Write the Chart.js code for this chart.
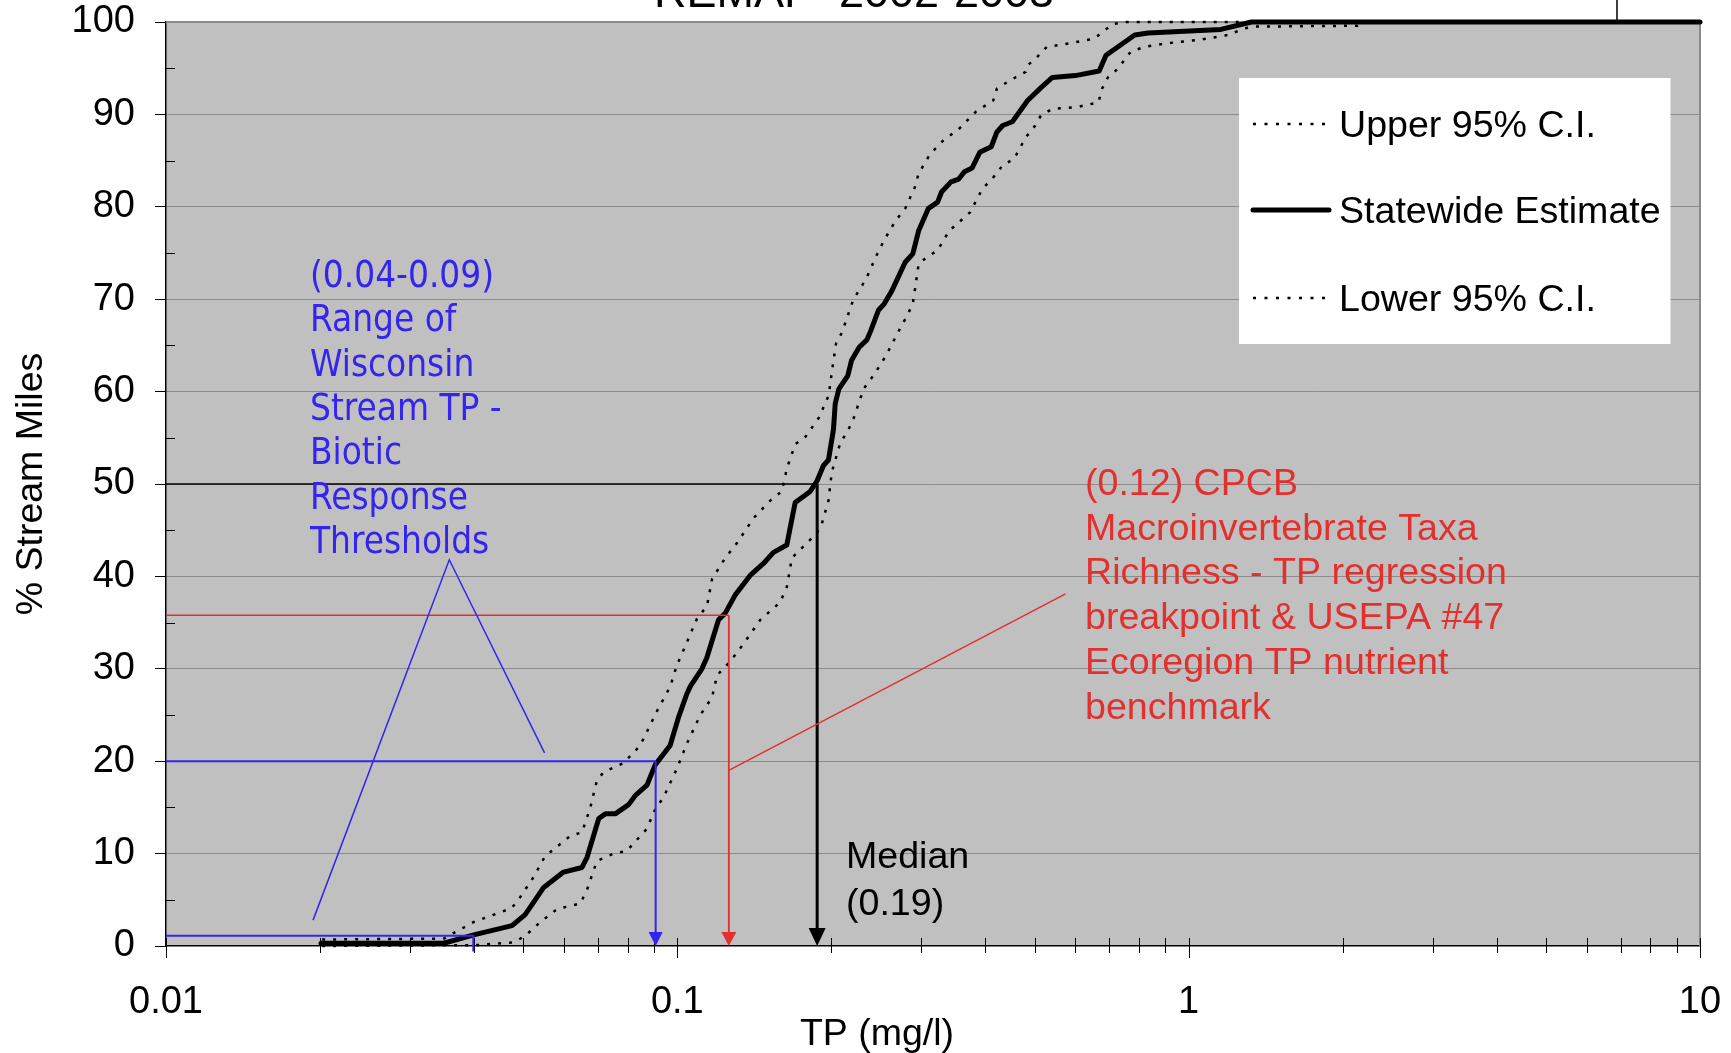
<!DOCTYPE html>
<html><head><meta charset="utf-8">
<script src="https://cdn.jsdelivr.net/npm/chart.js@4.4.1/dist/chart.umd.min.js"></script>
<style>html,body{margin:0;padding:0;background:#fff;overflow:hidden}#wrap{position:relative;width:1731px;height:1053px}</style>
</head><body><div id="wrap"><canvas id="c"></canvas></div>
<script>
// ---------- text ----------
const chartTitle = "REMAP  2002-2003";
const xAxisTitle = "TP (mg/l)";
const yAxisTitle = "% Stream Miles";
const seriesNames = ["Upper 95% C.I.", "Statewide Estimate", "Lower 95% C.I."];

// ---------- ticks ----------
const xMajorTicks = [0.01, 0.1, 1, 10];
const xTickLabels = ["0.01", "0.1", "1", "10"];
const xMinorTicks = [0.02,0.03,0.04,0.05,0.06,0.07,0.08,0.09,0.2,0.3,0.4,0.5,0.6,0.7,0.8,0.9,2,3,4,5,6,7,8,9];
const yMinorTicks = [5,15,25,35,45,55,65,75,85,95];

// ---------- series ----------
const upperTP = [0.0202,0.0350,0.0365,0.0400,0.0474,0.0489,0.0524,0.0551,0.0617,0.0651,0.0676,0.0696,0.0717,0.0785,0.0846,0.0912,0.0969,0.0998,0.1028,0.1092,0.1143,0.1169,0.1241,0.1308,0.1409,0.1519,0.1601,0.1638,0.1700,0.1780,0.1893,0.1977,0.2011,0.2045,0.2099,0.2210,0.2288,0.2348,0.2451,0.2538,0.2672,0.2790,0.2913,0.2964,0.3121,0.3315,0.3550,0.3837,0.4147,0.4217,0.4479,0.4799,0.4842,0.5053,0.5277,0.5853,0.6543,0.6774,0.7134,0.75,10];
const upperPct = [0.7,0.8,1.4,2.6,4.1,5.0,7.5,9.7,11.9,12.3,15.0,17.9,18.8,19.8,21.7,25.4,28.1,30.4,32.0,35.4,36.8,39.7,42.0,43.6,46.3,48.2,49.2,51.7,54.3,55.1,57.2,59.6,62.6,65.3,66.4,70.0,71.3,72.4,74.7,76.4,78.5,79.8,82.1,83.6,85.7,87.2,88.4,90.3,91.5,92.8,93.7,94.6,95.3,96.2,97.3,97.7,98.2,98.9,99.8,100,100];

const estTP = [0.0201,0.0349,0.0400,0.0475,0.0504,0.0547,0.0599,0.0651,0.0666,0.0702,0.0723,0.0756,0.0803,0.0828,0.0872,0.0905,0.0968,0.1006,0.1044,0.1060,0.1117,0.1142,0.1204,0.1240,0.1298,0.1388,0.1474,0.1542,0.1637,0.1700,0.1819,0.1875,0.1931,0.1975,0.2020,0.2036,0.2070,0.2154,0.2192,0.2268,0.2348,0.2390,0.2473,0.2539,0.2627,0.2790,0.2887,0.2964,0.3095,0.3229,0.3286,0.3430,0.3551,0.3643,0.3771,0.3904,0.4111,0.4217,0.4329,0.4520,0.4842,0.5143,0.5413,0.6005,0.6683,0.6892,0.7844,0.8330,1.156,1.327,10];
const estPct = [0.3,0.3,1.2,2.2,3.4,6.3,8.0,8.5,9.6,13.8,14.3,14.3,15.3,16.3,17.4,19.6,21.7,24.8,27.3,28.1,30.0,31.2,35.3,36.0,38.0,40.1,41.4,42.6,43.4,48.0,49.2,50.3,52.0,52.6,55.9,58.7,60.3,61.7,63.4,64.8,65.6,66.6,68.8,69.5,70.9,74.0,74.9,77.4,79.8,80.5,81.6,82.7,83.0,83.8,84.2,85.9,86.5,88.1,88.8,89.2,91.5,92.9,94.0,94.2,94.7,96.4,98.6,98.8,99.2,100,100];

const lowerTP = [0.0202,0.0406,0.0479,0.0504,0.0540,0.0582,0.0646,0.0666,0.0696,0.0751,0.0797,0.0872,0.0905,0.0940,0.0998,0.1044,0.1109,0.1169,0.1196,0.1269,0.1347,0.1453,0.1589,0.1638,0.1675,0.1875,0.1917,0.1975,0.2005,0.2082,0.2161,0.2227,0.2269,0.2328,0.2430,0.2559,0.2649,0.2742,0.2814,0.2887,0.2913,0.2964,0.3067,0.3230,0.3401,0.3550,0.3737,0.3902,0.3972,0.4111,0.4330,0.4557,0.4799,0.5011,0.5143,0.5414,0.6056,0.6662,0.6774,0.6950,0.7258,0.7709,0.8188,0.9078,1.060,1.196,1.282,1.350,2.14,2.2,10];
const lowerPct = [0.0,0.1,0.4,1.1,2.6,4.0,4.6,6.1,9.2,10.0,10.3,12.7,14.8,16.1,19.2,21.9,25.0,26.9,29.3,30.8,32.7,35.3,37.2,38.9,42.0,44.7,45.7,48.2,51.3,54.4,55.9,57.5,59.0,60.5,61.9,63.9,65.5,67.1,68.2,69.5,70.9,73.8,74.5,75.3,77.4,78.3,79.4,81.4,82.1,82.9,84.5,85.2,87.5,88.8,89.9,90.6,90.8,91.3,92.8,94.0,94.9,96.8,97.3,97.7,98.1,98.6,99.3,99.5,99.6,100,100];

// ---------- annotations (values) ----------
const medianTP = 0.1877, medianPct = 50;
const cpcbTP = 0.1261, cpcbPct = 35.8;
const wiHighTP = 0.0907, wiHighPct = 20;
const wiLowTP = 0.0399, wiLowPct = 1.1, wiLowDrop = -0.6;
const blueCalloutTP = [0.01939, 0.03581, 0.0550];
const blueCalloutPct = [2.8, 41.8, 20.9];
const redCalloutTP = [0.1261, 0.5743];
const redCalloutPct = [19.0, 38.1];
const blueNote = ["(0.04-0.09)", "Range of", "Wisconsin", "Stream TP -", "Biotic", "Response", "Thresholds"];
const redNote = ["(0.12) CPCB", "Macroinvertebrate Taxa", "Richness - TP regression", "breakpoint & USEPA #47", "Ecoregion TP nutrient", "benchmark"];
const medianNote = ["Median", "(0.19)"];

// ---------- build ----------
const ARIAL = "'Liberation Sans', Arial, Helvetica, sans-serif";
const BLUE = '#3524EE', RED = '#E2302F';
const zip = (xs, ys) => xs.map((x, i) => ({x: x, y: ys[i]}));
const allXTicks = xMajorTicks.concat(xMinorTicks).sort((a, b) => a - b);

function arrow(ctx, x, y0, y1, color, lw, hw, hh) {
  ctx.save();
  ctx.strokeStyle = color; ctx.fillStyle = color; ctx.lineWidth = lw;
  ctx.beginPath(); ctx.moveTo(x, y0); ctx.lineTo(x, y1 - hh + 1); ctx.stroke();
  ctx.beginPath(); ctx.moveTo(x - hw, y1 - hh); ctx.lineTo(x + hw, y1 - hh); ctx.lineTo(x, y1); ctx.closePath(); ctx.fill();
  ctx.restore();
}
function seg(ctx, pts, color, lw) {
  ctx.save(); ctx.strokeStyle = color; ctx.lineWidth = lw; ctx.lineJoin = 'miter';
  ctx.beginPath(); pts.forEach((p, i) => i ? ctx.lineTo(p[0], p[1]) : ctx.moveTo(p[0], p[1])); ctx.stroke(); ctx.restore();
}

const deco = {
  id: 'deco',
  beforeDraw(chart) {
    const {ctx, chartArea: a} = chart;
    ctx.save();
    ctx.fillStyle = '#fff'; ctx.fillRect(0, 0, chart.width, chart.height);
    ctx.fillStyle = '#c0c0c0'; ctx.fillRect(a.left, a.top, a.right - a.left, a.bottom - a.top);
    ctx.restore();
  },
  beforeDatasetsDraw(chart) {
    const {ctx, chartArea: a, scales} = chart;
    const xs = scales.x, ys = scales.y;
    ctx.save();
    ctx.strokeStyle = '#8a8a8a'; ctx.lineWidth = 2;
    ctx.beginPath(); ctx.moveTo(a.left, a.top); ctx.lineTo(a.right, a.top); ctx.lineTo(a.right, a.bottom); ctx.stroke();
    ctx.strokeStyle = '#000'; ctx.lineWidth = 1;
    yMinorTicks.forEach(v => { const y = Math.round(ys.getPixelForValue(v)) + 0.5; ctx.beginPath(); ctx.moveTo(a.left, y); ctx.lineTo(a.left + 9, y); ctx.stroke(); });
    allXTicks.forEach(v => {
      const x = Math.round(xs.getPixelForValue(v)) + 0.5;
      const major = xMajorTicks.includes(v);
      ctx.beginPath(); ctx.moveTo(x, a.bottom - 8); ctx.lineTo(x, a.bottom + (major ? 12 : 7)); ctx.stroke();
    });
    ctx.restore();
  },
  afterDatasetsDraw(chart) {
    const {ctx, chartArea: a, scales} = chart;
    const X = v => scales.x.getPixelForValue(v), Y = v => scales.y.getPixelForValue(v);
    seg(ctx, [[a.left, Y(medianPct)], [X(medianTP), Y(medianPct)]], '#000', 1.5);
    arrow(ctx, X(medianTP), Y(medianPct), Y(0), '#000', 3, 8.5, 18);
    seg(ctx, [[a.left, Y(cpcbPct)], [X(cpcbTP), Y(cpcbPct)]], RED, 1.6);
    arrow(ctx, X(cpcbTP), Y(cpcbPct), Y(0), RED, 1.8, 7.5, 14);
    seg(ctx, redCalloutTP.map((v, i) => [X(v), Y(redCalloutPct[i])]), RED, 1.5);
    seg(ctx, [[a.left, Y(wiHighPct)], [X(wiHighTP), Y(wiHighPct)]], BLUE, 2);
    arrow(ctx, X(wiHighTP), Y(wiHighPct), Y(0), BLUE, 2, 7, 14);
    seg(ctx, [[a.left, Y(wiLowPct)], [X(wiLowTP), Y(wiLowPct)], [X(wiLowTP), Y(wiLowDrop)]], BLUE, 2);
    seg(ctx, blueCalloutTP.map((v, i) => [X(v), Y(blueCalloutPct[i])]), BLUE, 1.5);

    ctx.save();
    ctx.textBaseline = 'alphabetic'; ctx.textAlign = 'left';
    ctx.font = "36px 'DejaVu Sans Condensed', 'DejaVu Sans', sans-serif";
    let w = ctx.measureText(blueNote[0]).width;
    const bs = Math.max(28, Math.min(40, 36 * 184 / w));
    ctx.font = bs.toFixed(1) + "px 'DejaVu Sans Condensed', 'DejaVu Sans', sans-serif";
    ctx.fillStyle = BLUE;
    blueNote.forEach((t, i) => ctx.fillText(t, 310, 286.7 + i * 44.4));
    ctx.font = "37.6px " + ARIAL; ctx.fillStyle = RED;
    redNote.forEach((t, i) => ctx.fillText(t, 1085, 495 + i * 44.7));
    ctx.fillStyle = '#000';
    medianNote.forEach((t, i) => ctx.fillText(t, 846, 868 + i * 47));
    ctx.fillStyle = '#fff'; ctx.fillRect(1239, 78, 431.5, 266);
    const rows = [124, 210, 298];
    chart.data.datasets.forEach((ds, i) => {
      ctx.save();
      ctx.strokeStyle = '#000'; ctx.lineWidth = ds.borderWidth;
      const dotted = ds.borderDash && ds.borderDash.length;
      ctx.setLineDash(dotted ? [3, 8.5] : []);
      ctx.lineCap = dotted ? 'butt' : 'round';
      ctx.beginPath(); ctx.moveTo(1253, rows[i]); ctx.lineTo(1329, rows[i]); ctx.stroke();
      ctx.restore();
      ctx.fillStyle = '#000'; ctx.font = "37.6px " + ARIAL;
      ctx.fillText(ds.label, 1339, rows[i] + 13);
    });
    ctx.restore();
  },
  afterDraw(chart) {
    const {ctx} = chart;
    ctx.save();
    ctx.fillStyle = '#000'; ctx.textAlign = 'center'; ctx.textBaseline = 'alphabetic';
    ctx.font = "45px " + ARIAL; ctx.fillText(chartTitle, 854, 7);
    ctx.font = "37.5px " + ARIAL; ctx.fillText(xAxisTitle, 877, 1045);
    ctx.strokeStyle = '#000'; ctx.lineWidth = 1.5;
    ctx.beginPath(); ctx.moveTo(1617, 0); ctx.lineTo(1617, chart.chartArea.top); ctx.stroke();
    ctx.restore();
  }
};

new Chart(document.getElementById('c'), {
  type: 'line',
  data: {
    datasets: [
      {label: seriesNames[0], data: zip(upperTP, upperPct), borderColor: '#000', borderWidth: 2.5, borderDash: [3, 8], borderCapStyle: 'butt', pointRadius: 0, tension: 0, fill: false, clip: 6, order: 2},
      {label: seriesNames[1], data: zip(estTP, estPct), borderColor: '#000', borderWidth: 5, borderJoinStyle: 'round', borderCapStyle: 'round', pointRadius: 0, tension: 0, fill: false, clip: 8, order: 1},
      {label: seriesNames[2], data: zip(lowerTP, lowerPct), borderColor: '#000', borderWidth: 2.5, borderDash: [3, 8], borderCapStyle: 'butt', pointRadius: 0, tension: 0, fill: false, clip: 6, order: 3}
    ]
  },
  options: {
    responsive: true, maintainAspectRatio: false, animation: false, devicePixelRatio: 1,
    layout: {autoPadding: false, padding: {left: 0, top: 22, right: 31, bottom: 0}},
    plugins: {legend: {display: false}, tooltip: {enabled: false}, title: {display: false}},
    scales: {
      x: {
        type: 'logarithmic', min: 0.01, max: 10,
        afterBuildTicks: s => { s.ticks = allXTicks.map(v => ({value: v, major: xMajorTicks.includes(v)})); },
        ticks: {
          autoSkip: false, maxRotation: 0, minRotation: 0, padding: 34, color: '#000',
          font: {family: ARIAL, size: 38},
          callback: v => { const i = xMajorTicks.indexOf(v); return i >= 0 ? xTickLabels[i] : ''; }
        },
        grid: {drawOnChartArea: false, drawTicks: false},
        border: {color: '#000', width: 1.5},
        afterFit: s => { s.height = 107; s.paddingLeft = 0; s.paddingRight = 0; }
      },
      y: {
        min: 0, max: 100,
        ticks: {stepSize: 10, padding: 20, color: '#000', font: {family: ARIAL, size: 38}},
        grid: {color: c => (c.tick && c.tick.value === 0) ? 'rgba(0,0,0,0)' : '#8c8c8c', lineWidth: 1, tickLength: 11, tickColor: '#000', drawTicks: true},
        border: {color: '#000', width: 1.5},
        title: {display: true, text: yAxisTitle, color: '#000', font: {family: ARIAL, size: 37.5}, padding: {top: 9, bottom: 0}},
        afterFit: s => { s.width = 166; s.paddingTop = 0; s.paddingBottom = 0; }
      }
    }
  },
  plugins: [deco]
});
</script>
</body></html>
